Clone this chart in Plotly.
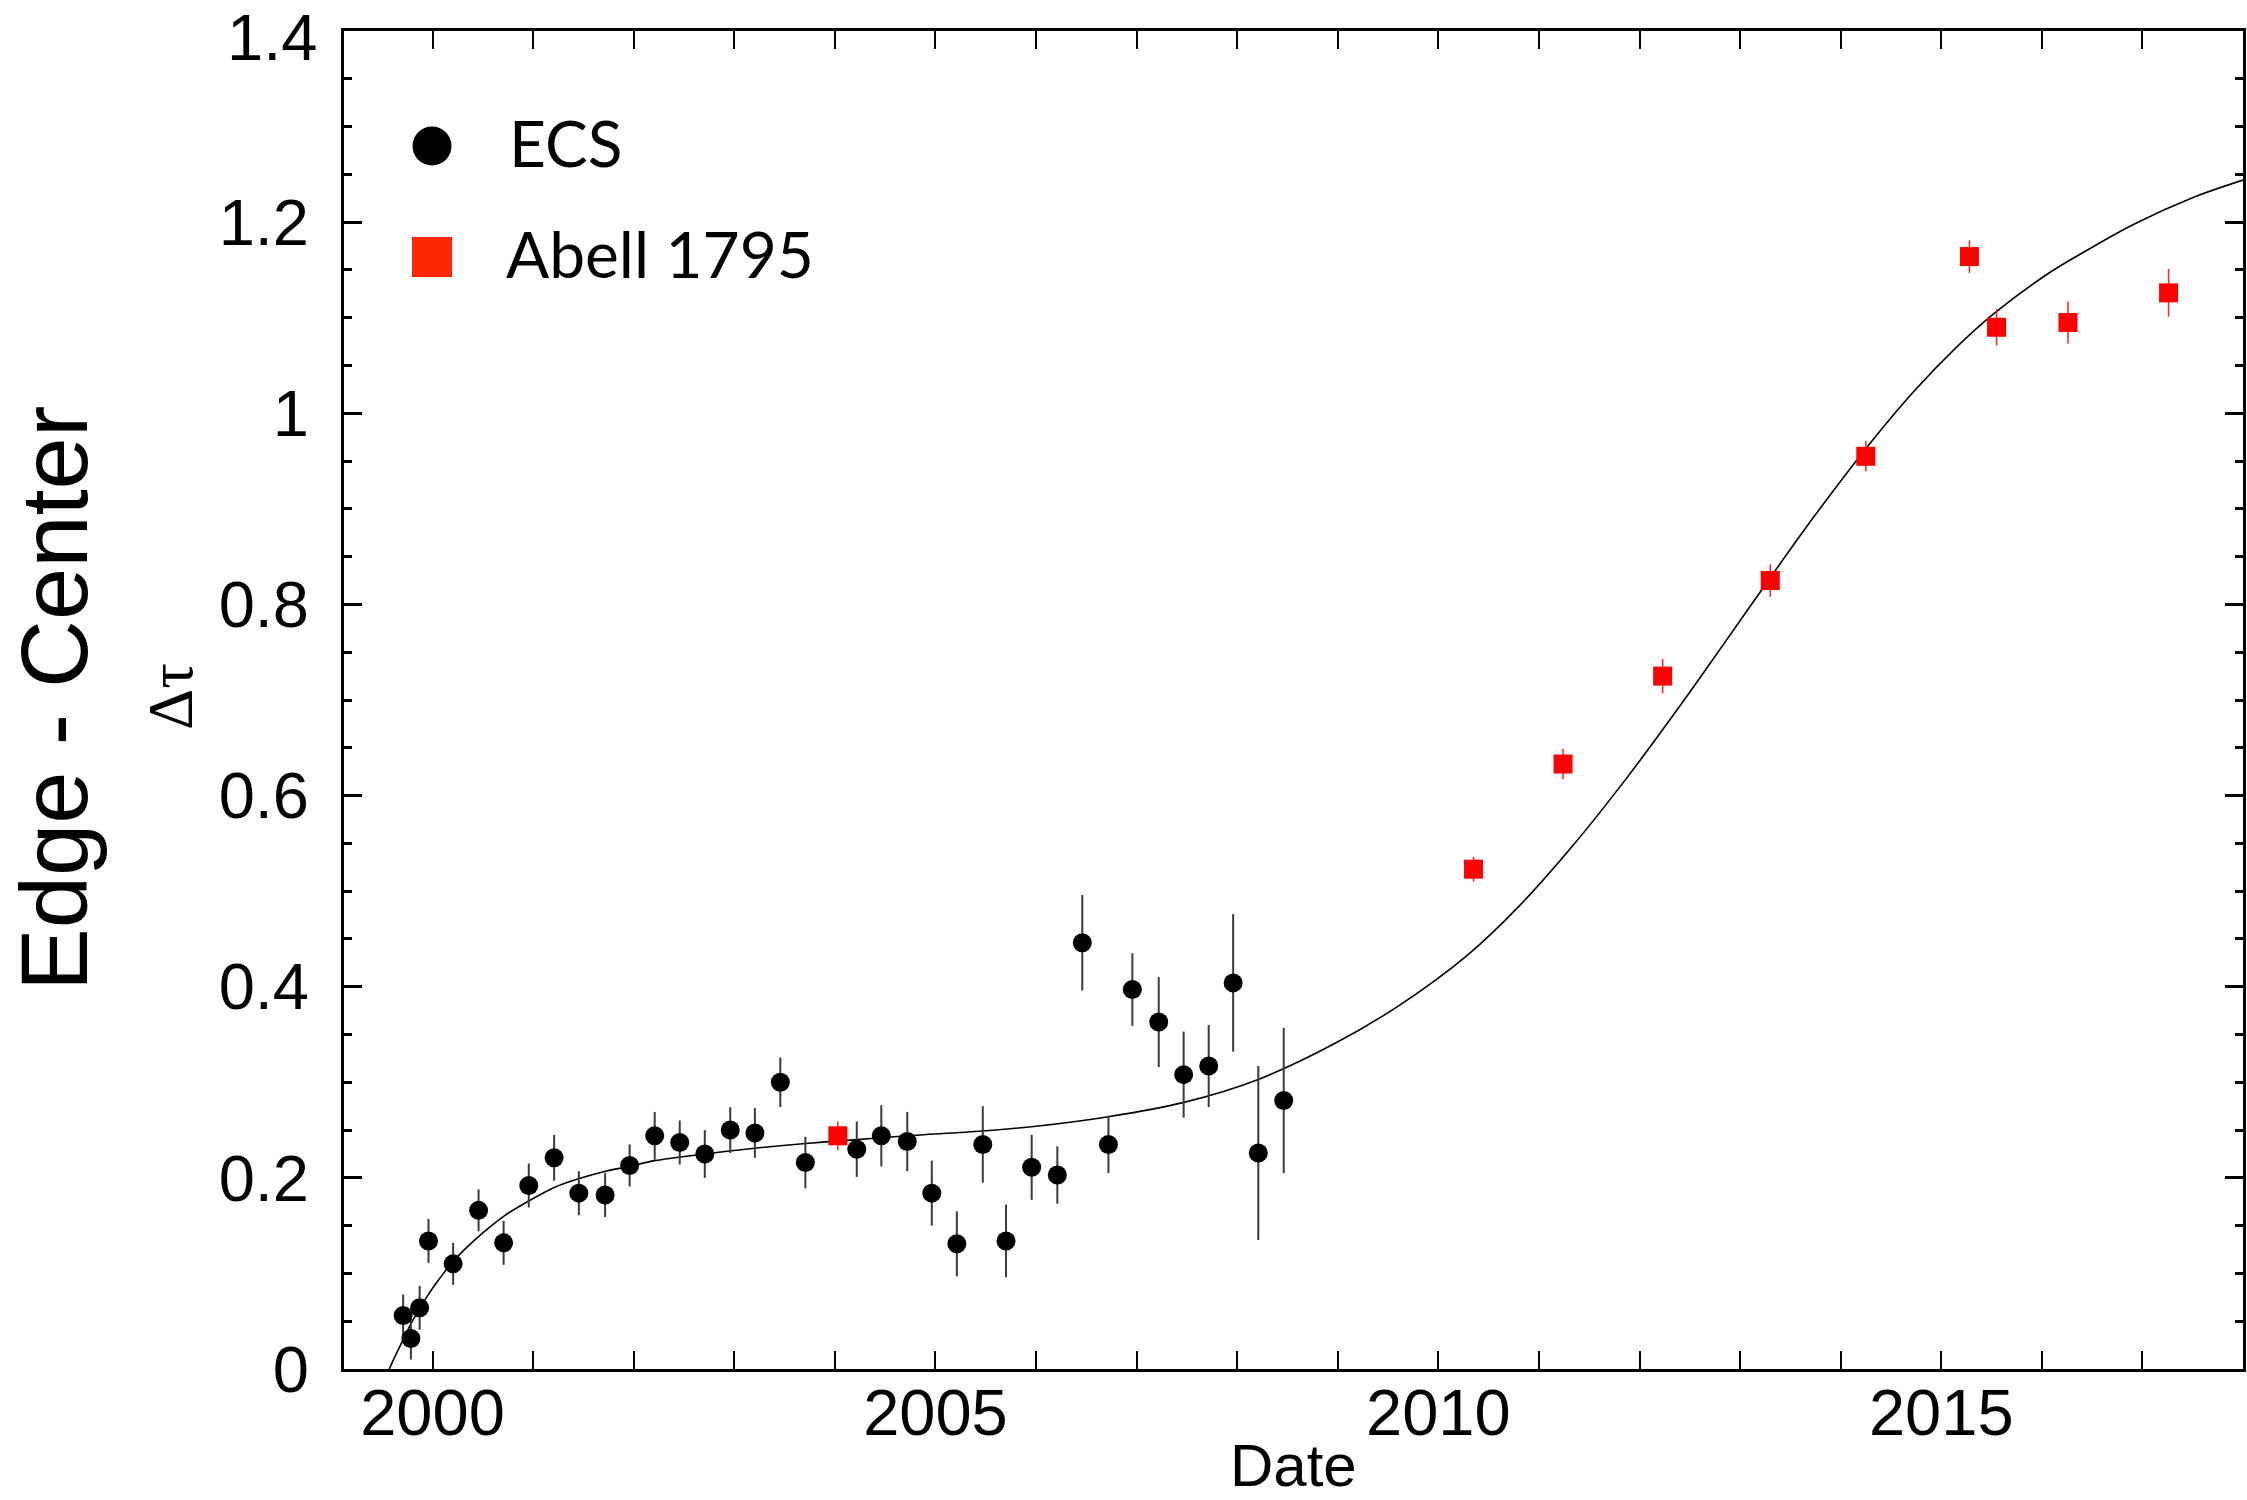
import plotly.graph_objects as go

# ---------------- data ----------------
ecs_year = [1999.708, 1999.785, 1999.872, 1999.960, 2000.205, 2000.458, 2000.707, 2000.957,
            2001.209, 2001.455, 2001.716, 2001.960, 2002.209, 2002.458, 2002.707, 2002.960,
            2003.205, 2003.458, 2003.707, 2004.218, 2004.462, 2004.720, 2004.964, 2005.213,
            2005.471, 2005.702, 2005.957, 2006.212, 2006.460, 2006.720, 2006.958, 2007.220,
            2007.468, 2007.717, 2007.960, 2008.210, 2008.463]
ecs_val = [0.056, 0.032, 0.064, 0.134, 0.110, 0.166, 0.132, 0.192,
           0.221, 0.184, 0.182, 0.213, 0.244, 0.237, 0.225, 0.250,
           0.247, 0.300, 0.216, 0.230, 0.244, 0.238, 0.184, 0.131,
           0.235, 0.134, 0.211, 0.203, 0.446, 0.235, 0.397, 0.363,
           0.308, 0.317, 0.404, 0.226, 0.281]
ecs_err = [0.022, 0.022, 0.023, 0.023, 0.022, 0.022, 0.023, 0.023,
           0.024, 0.023, 0.023, 0.022, 0.025, 0.023, 0.025, 0.024,
           0.026, 0.026, 0.027, 0.029, 0.032, 0.031, 0.034, 0.034,
           0.040, 0.038, 0.034, 0.030, 0.050, 0.030, 0.038, 0.047,
           0.045, 0.043, 0.072, 0.091, 0.076]

abell_year = [2004.03, 2010.35, 2011.24, 2012.23, 2013.30, 2014.25, 2015.28, 2015.55, 2016.26, 2017.26]
abell_val = [0.244, 0.523, 0.633, 0.725, 0.825, 0.955, 1.164, 1.090, 1.095, 1.126]
abell_err = [0.015, 0.013, 0.016, 0.018, 0.017, 0.016, 0.017, 0.019, 0.022, 0.025]

# fitted curve, sampled by eye along the drawn line
fit_year = [1999.57, 1999.64, 1999.71, 1999.80, 1999.94, 2000.08, 2000.20, 2000.41, 2000.71,
            2000.96, 2001.21, 2001.45, 2001.72, 2001.96, 2002.21, 2002.71, 2003.20, 2003.71,
            2004.22, 2004.72, 2005.47, 2006.00, 2006.72, 2007.47, 2008.21, 2008.96, 2009.62,
            2010.29, 2010.80, 2011.34, 2011.87, 2012.41, 2012.84, 2013.30, 2013.75, 2014.25,
            2014.72, 2015.15, 2015.52, 2016.06, 2016.44, 2016.92, 2017.51, 2018.00]
fit_val = [0.000, 0.016, 0.031, 0.050, 0.075, 0.096, 0.112, 0.134, 0.160,
           0.176, 0.190, 0.199, 0.207, 0.212, 0.218, 0.225, 0.231, 0.236,
           0.240, 0.244, 0.249, 0.254, 0.264, 0.279, 0.303, 0.340, 0.381,
           0.433, 0.484, 0.548, 0.618, 0.695, 0.759, 0.828, 0.894, 0.963,
           1.022, 1.069, 1.104, 1.146, 1.170, 1.198, 1.226, 1.244]

y_tickvals = [0, 0.2, 0.4, 0.6, 0.8, 1.0, 1.2, 1.4]
y_ticktext = ["0", "0.2", "0.4", "0.6", "0.8", "1", "1.2", ""]
y_top_label = "1.4"
x_tickvals = [2000, 2005, 2010, 2015]
x_ticktext = ["2000", "2005", "2010", "2015"]

legend_names = ["ECS", "Abell 1795"]
x_title = "Date"
y_title_outer = "Edge - Center"
y_title_inner = "Δτ"

# ---------------- layout geometry ----------------
W, H = 2247, 1500
L, R, T, B = 344, 4, 31, 131
PW, PH = W - L - R, H - T - B


def px(x):
    return (x - L) / PW


def py(y):
    return (H - B - y) / PH


SANS = "Liberation Sans, Arial, Helvetica, sans-serif"
LEGF = "Lato, Noto Sans, sans-serif"

fig = go.Figure()

fig.add_trace(go.Scatter(
    x=fit_year, y=fit_val, mode="lines",
    line=dict(color="black", width=1.6, shape="spline", smoothing=1.0),
    showlegend=False, hoverinfo="skip"))

fig.add_trace(go.Scatter(
    x=ecs_year, y=ecs_val, mode="markers", name=legend_names[0],
    marker=dict(symbol="circle", size=19, color="black", line=dict(width=0)),
    error_y=dict(type="data", array=ecs_err, visible=True, color="#3a3a3a",
                 thickness=2, width=0),
    showlegend=False))

fig.add_trace(go.Scatter(
    x=abell_year, y=abell_val, mode="markers", name=legend_names[1],
    marker=dict(symbol="square", size=19, color="#ff0000", line=dict(width=0)),
    error_y=dict(type="data", array=abell_err, visible=True, color="#ff2020",
                 thickness=1.5, width=0),
    showlegend=False))

fig.update_xaxes(
    range=[1999.12, 2018.0], tickmode="array", tickvals=x_tickvals, ticktext=x_ticktext,
    ticks="inside", ticklen=18, tickwidth=2, tickcolor="black",
    minor=dict(tickmode="linear", dtick=1, tick0=2000, ticks="inside", ticklen=18,
               tickwidth=2, tickcolor="black", showgrid=False),
    showline=True, linecolor="black", linewidth=3, mirror="ticks",
    showgrid=False, zeroline=False, ticklabelstandoff=-15,
    ticklabeloverflow="allow", automargin=False,
    tickfont=dict(family=SANS, size=65, color="black"))

fig.update_yaxes(
    range=[0, 1.4], tickmode="array", tickvals=y_tickvals, ticktext=y_ticktext,
    ticks="inside", ticklen=18, tickwidth=2.5, tickcolor="black",
    minor=dict(tickmode="linear", dtick=0.05, tick0=0, ticks="inside", ticklen=8,
               tickwidth=2.5, tickcolor="black", showgrid=False),
    showline=True, linecolor="black", linewidth=3, mirror="ticks",
    showgrid=False, zeroline=False, ticklabelstandoff=19,
    ticklabeloverflow="allow", automargin=False,
    tickfont=dict(family=SANS, size=65, color="black"))

annotations = [
    dict(text=y_top_label, x=px(318), y=1.0 + T / PH, xref="paper", yref="paper",
         showarrow=False, xanchor="right", yanchor="top", borderpad=0,
         font=dict(family=SANS, size=65, color="black")),
    dict(text=y_title_outer, x=px(54), y=py(699), xref="paper", yref="paper",
         textangle=-90, showarrow=False, xanchor="center", yanchor="middle",
         font=dict(family=SANS, size=94, color="black")),
    dict(text=y_title_inner, x=px(170), y=py(697), xref="paper", yref="paper",
         textangle=-90, showarrow=False, xanchor="center", yanchor="middle",
         font=dict(family="Liberation Serif, Times New Roman, serif", size=64, color="black")),
    dict(text=x_title, x=0.5, y=py(1465), xref="paper", yref="paper",
         showarrow=False, xanchor="center", yanchor="middle",
         font=dict(family=SANS, size=60, color="black")),
    dict(text=legend_names[0], x=px(507), y=py(143), xref="paper", yref="paper",
         showarrow=False, xanchor="left", yanchor="middle",
         font=dict(family=LEGF, size=64, color="black")),
    dict(text=legend_names[1], x=px(504), y=py(253), xref="paper", yref="paper",
         showarrow=False, xanchor="left", yanchor="middle",
         font=dict(family=LEGF, size=64, color="black")),
]

shapes = [
    dict(type="circle", xref="paper", yref="paper",
         x0=px(432 - 19.5), x1=px(432 + 19.5), y0=py(146 + 19.5), y1=py(146 - 19.5),
         fillcolor="black", line=dict(width=0)),
    dict(type="rect", xref="paper", yref="paper",
         x0=px(412), x1=px(452), y0=py(277), y1=py(237),
         fillcolor="#ff2600", line=dict(width=0)),
]

fig.update_layout(
    width=W, height=H, autosize=False,
    margin=dict(l=L, r=R, t=T, b=B, pad=0, autoexpand=False),
    paper_bgcolor="white", plot_bgcolor="white",
    showlegend=False, annotations=annotations, shapes=shapes)

fig.write_html("out.html", config={"responsive": False, "displayModeBar": False})
